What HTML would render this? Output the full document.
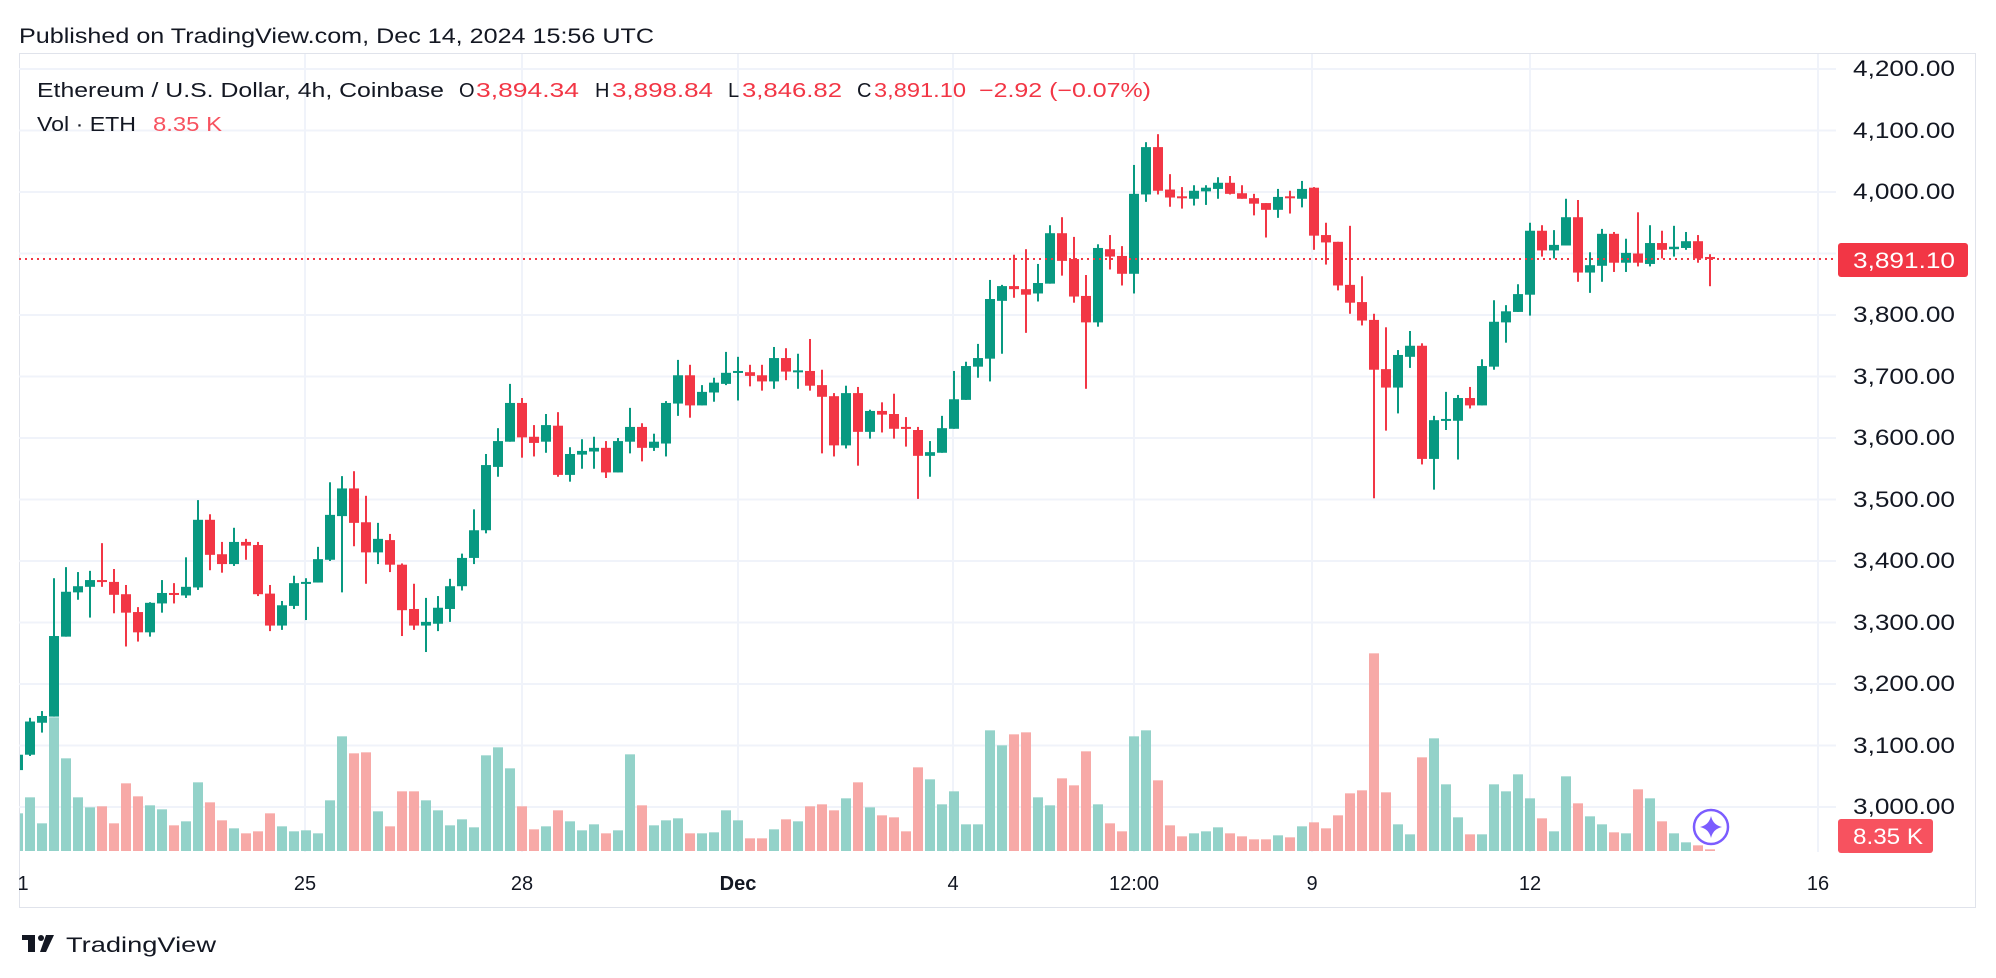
<!DOCTYPE html>
<html><head><meta charset="utf-8">
<style>
html,body{margin:0;padding:0;background:#fff;}
svg{display:block;}
text{font-family:"Liberation Sans",Arial,sans-serif;}
</style></head>
<body>
<svg id="c" width="1996" height="978" viewBox="0 0 1996 978" xmlns="http://www.w3.org/2000/svg">
<rect x="0" y="0" width="1996" height="978" fill="#fff"/>
<text x="19" y="43" font-size="21" fill="#131722" textLength="635" lengthAdjust="spacingAndGlyphs">Published on TradingView.com, Dec 14, 2024 15:56 UTC</text>
<rect x="19.5" y="53.5" width="1956" height="854" fill="none" stroke="#e0e3eb" stroke-width="1"/>
<g id="grid" stroke="#f0f3fa" stroke-width="2"></g>
<g id="vol"></g>
<g id="cand"></g>
<line x1="19" y1="259" x2="1837" y2="259" stroke="#f23645" stroke-width="2" stroke-dasharray="2 4"/>
<!-- legend -->
<text y="97" font-size="20" fill="#131722">
<tspan x="37" textLength="407" lengthAdjust="spacingAndGlyphs">Ethereum / U.S. Dollar, 4h, Coinbase</tspan>
</text>
<text y="97" font-size="20" fill="#131722"><tspan x="459">O</tspan></text>
<text y="97" font-size="20" fill="#f23645"><tspan x="476" textLength="103" lengthAdjust="spacingAndGlyphs">3,894.34</tspan></text>
<text y="97" font-size="20" fill="#131722"><tspan x="595">H</tspan></text>
<text y="97" font-size="20" fill="#f23645"><tspan x="612" textLength="101" lengthAdjust="spacingAndGlyphs">3,898.84</tspan></text>
<text y="97" font-size="20" fill="#131722"><tspan x="728">L</tspan></text>
<text y="97" font-size="20" fill="#f23645"><tspan x="742" textLength="100" lengthAdjust="spacingAndGlyphs">3,846.82</tspan></text>
<text y="97" font-size="20" fill="#131722"><tspan x="857">C</tspan></text>
<text y="97" font-size="20" fill="#f23645"><tspan x="874" textLength="92" lengthAdjust="spacingAndGlyphs">3,891.10</tspan></text>
<text y="97" font-size="20" fill="#f23645"><tspan x="979" textLength="172" lengthAdjust="spacingAndGlyphs">−2.92 (−0.07%)</tspan></text>
<text y="131" font-size="20" fill="#131722"><tspan x="37" textLength="99" lengthAdjust="spacingAndGlyphs">Vol · ETH</tspan></text>
<text y="131" font-size="20" fill="#f7525f"><tspan x="153" textLength="69" lengthAdjust="spacingAndGlyphs">8.35 K</tspan></text>
<!-- price axis -->
<g font-size="22" fill="#131722">
<text x="1853" y="76" textLength="102" lengthAdjust="spacingAndGlyphs">4,200.00</text>
<text x="1853" y="138" textLength="102" lengthAdjust="spacingAndGlyphs">4,100.00</text>
<text x="1853" y="199" textLength="102" lengthAdjust="spacingAndGlyphs">4,000.00</text>
<text x="1853" y="322" textLength="102" lengthAdjust="spacingAndGlyphs">3,800.00</text>
<text x="1853" y="384" textLength="102" lengthAdjust="spacingAndGlyphs">3,700.00</text>
<text x="1853" y="445" textLength="102" lengthAdjust="spacingAndGlyphs">3,600.00</text>
<text x="1853" y="507" textLength="102" lengthAdjust="spacingAndGlyphs">3,500.00</text>
<text x="1853" y="568" textLength="102" lengthAdjust="spacingAndGlyphs">3,400.00</text>
<text x="1853" y="630" textLength="102" lengthAdjust="spacingAndGlyphs">3,300.00</text>
<text x="1853" y="691" textLength="102" lengthAdjust="spacingAndGlyphs">3,200.00</text>
<text x="1853" y="753" textLength="102" lengthAdjust="spacingAndGlyphs">3,100.00</text>
<text x="1853" y="814" textLength="102" lengthAdjust="spacingAndGlyphs">3,000.00</text>
</g>
<rect x="1838" y="243" width="130" height="34" rx="3" fill="#f23645"/>
<text x="1853" y="268" font-size="22" fill="#fff" textLength="102" lengthAdjust="spacingAndGlyphs">3,891.10</text>
<rect x="1838" y="819" width="95" height="34" rx="3" fill="#f7525f"/>
<text x="1853" y="844" font-size="22" fill="#fff" textLength="70" lengthAdjust="spacingAndGlyphs">8.35 K</text>
<!-- sparkle -->
<circle cx="1711" cy="827" r="17" fill="#fff" stroke="#7b5cff" stroke-width="2.5"/>
<path d="M1711 816 Q1713 825 1722 827 Q1713 829 1711 838 Q1709 829 1700 827 Q1709 825 1711 816Z" fill="#7b5cff"/>
<!-- time axis -->
<g font-size="20" fill="#131722" text-anchor="middle">
<text x="23" y="890">1</text>
<text x="305" y="890">25</text>
<text x="522" y="890">28</text>
<text x="738" y="890" font-weight="bold">Dec</text>
<text x="953" y="890">4</text>
<text x="1134" y="890">12:00</text>
<text x="1312" y="890">9</text>
<text x="1530" y="890">12</text>
<text x="1818" y="890">16</text>
</g>
<!-- logo -->
<g fill="#131722">
<rect x="22" y="935" width="13" height="5"/>
<rect x="28" y="935" width="7" height="17"/>
<circle cx="41" cy="938" r="3"/>
<path d="M46 935 L54 935 L46 952 L40 952Z"/>
</g>
<text x="66" y="952" font-size="21" fill="#131722" textLength="150" lengthAdjust="spacingAndGlyphs">TradingView</text>
</svg>
<script>
(function(){
var NS="http://www.w3.org/2000/svg";
function el(p,n,a){var e=document.createElementNS(NS,n);for(var k in a)e.setAttribute(k,a[k]);p.appendChild(e);return e;}
var grid=document.getElementById('grid'),vol=document.getElementById('vol'),cand=document.getElementById('cand');
for(var k=0;k<=12;k++){var y=69+k*61.5;el(grid,'line',{x1:19,x2:1836,y1:y,y2:y});}
[305,522,738,953,1134,1312,1530,1818].forEach(function(x){el(grid,'line',{x1:x,x2:x,y1:54,y2:852});});
var D=[
[3060,3090,3055,3085],
[3085,3145,3083,3139],[3137,3156,3121,3148],[3147,3372,3147,3278],[3277,3390,3277,3350],[3349,3382,3337,3359],
[3358,3384,3308,3369],[3369,3429,3358,3368],[3366,3387,3315,3345],[3346,3361,3261,3316],[3317,3325,3269,3284],
[3284,3333,3277,3332],[3331,3369,3316,3348],[3348,3364,3331,3345],[3344,3406,3340,3358],[3357,3499,3353,3467],
[3467,3476,3385,3410],[3411,3431,3381,3395],[3395,3454,3392,3431],[3431,3436,3402,3425],[3426,3431,3343,3346],
[3347,3361,3286,3295],[3295,3335,3288,3328],[3327,3376,3322,3364],[3364,3372,3304,3366],[3365,3423,3365,3403],
[3402,3528,3400,3475],[3473,3538,3349,3518],[3518,3546,3424,3462],[3463,3506,3363,3414],[3414,3462,3395,3436],
[3434,3444,3382,3394],[3394,3396,3278,3320],[3322,3363,3288,3295],[3295,3340,3252,3301],[3298,3343,3286,3324],
[3322,3371,3301,3359],[3359,3412,3352,3405],[3405,3484,3395,3450],[3450,3574,3445,3556],
[3553,3616,3537,3595],[3594,3688,3594,3657],[3657,3665,3568,3601],[3602,3621,3570,3592],[3594,3639,3576,3621],
[3620,3642,3537,3540],[3540,3585,3529,3574],[3573,3598,3550,3579],[3578,3602,3550,3584],[3584,3595,3535,3544],
[3544,3600,3544,3595],[3594,3649,3575,3618],[3618,3624,3562,3584],[3584,3607,3579,3594],[3591,3660,3570,3657],
[3656,3727,3636,3702],[3702,3719,3633,3653],[3653,3686,3653,3675],[3674,3698,3659,3690],[3688,3740,3686,3706],
[3707,3732,3661,3709],[3707,3719,3684,3701],[3702,3719,3677,3692],[3692,3748,3680,3730],[3730,3746,3694,3708],
[3708,3737,3680,3710],[3709,3761,3677,3685],[3686,3711,3575,3667],[3668,3673,3570,3588],[3588,3685,3583,3673],
[3673,3683,3555,3610],[3610,3646,3599,3644],[3644,3658,3609,3638],[3639,3672,3599,3615],
[3618,3634,3586,3616],[3613,3618,3501,3571],[3571,3595,3537,3577],[3576,3636,3576,3616],[3615,3709,3615,3663],
[3662,3724,3662,3717],[3716,3753,3698,3730],[3729,3857,3692,3826],[3823,3849,3737,3847],[3847,3898,3828,3842],
[3842,3907,3771,3833],[3835,3883,3822,3852],[3851,3946,3851,3933],[3933,3959,3864,3888],[3891,3927,3820,3830],
[3831,3865,3680,3788],[3788,3915,3781,3909],[3907,3930,3874,3895],[3896,3912,3848,3867],[3867,4044,3835,3997],
[3996,4081,3984,4073],[4073,4094,3996,4002],[4004,4029,3976,3991],[3993,4008,3973,3991],[3989,4011,3978,4002],
[4001,4011,3979,4007],[4005,4024,3989,4015],[4015,4026,3996,3997],[3998,4011,3989,3989],[3990,3997,3962,3981],
[3982,3982,3926,3971],[3971,4005,3958,3992],[3993,4002,3965,3991],[3989,4018,3975,4005],[4007,4008,3906,3929],
[3930,3950,3882,3918],[3919,3919,3840,3848],[3849,3945,3802,3820],[3821,3863,3783,3791],[3792,3802,3502,3711],
[3712,3780,3612,3682],[3682,3743,3640,3735],[3732,3774,3714,3750],[3750,3754,3557,3566],[3566,3636,3516,3629],
[3629,3675,3613,3631],[3628,3670,3565,3665],[3665,3683,3648,3653],[3653,3728,3653,3717],[3716,3824,3711,3789],
[3788,3816,3755,3806],[3805,3850,3805,3834],[3833,3950,3799,3937],[3937,3946,3895,3905],[3905,3938,3892,3914],
[3913,3989,3913,3959],[3959,3987,3854,3869],[3869,3902,3836,3881],[3880,3940,3854,3932],[3932,3935,3870,3885],
[3885,3924,3870,3901],[3900,3967,3879,3885],[3883,3946,3879,3917],[3917,3937,3892,3906],[3907,3945,3895,3911],
[3909,3935,3906,3920],[3920,3930,3885,3892],[3894.34,3898.84,3846.82,3891.10]
];
var V=[519,
471,549,231,354,471,501,498,549,429,468,495,507,555,543,426,486,540,564,579,573,
519,558,573,570,579,480,288,339,336,513,558,453,453,480,510,555,537,561,345,321,
384,498,567,558,510,543,570,552,579,570,342,495,555,540,534,579,579,576,510,540,
594,594,567,537,543,498,492,510,474,426,501,
525,531,573,381,417,492,453,552,552,270,315,282,276,471,495,414,435,333,492,549,
573,288,270,420,555,588,579,573,561,579,588,597,597,585,591,558,546,564,525,459,
450,39,456,552,582,351,294,432,531,582,582,432,453,402,474,534,573,408,489,528,
552,576,579,447,474,543,579,606,615,627];
function py(p){return 69+(4200-p)*0.615;}
for(var i=0;i<D.length;i++){
  var x=18+12*i, d=D[i], up=d[3]>=d[0];
  var h=(632-V[i])/3; var vx=x-5, vw=10;
  if(vx<20){vw-= (20-vx); vx=20;}
  el(vol,'rect',{x:vx,y:851-h,width:vw,height:h,fill:up?'#93d2c9':'#f7a9a7'});
  if(x<24){
    el(cand,'rect',{x:20,y:py(d[3]),width:3,height:py(d[0])-py(d[3]),fill:'#089981'});
    continue;
  }
  var c=up?'#089981':'#f23645';
  el(cand,'rect',{x:x-1,y:py(d[1]),width:2,height:Math.max(1,py(d[2])-py(d[1])),fill:c});
  var t=py(Math.max(d[0],d[3])),b=py(Math.min(d[0],d[3]));
  el(cand,'rect',{x:x-5,y:t,width:10,height:Math.max(2,b-t),fill:c});
}
})();
</script>
</body></html>
